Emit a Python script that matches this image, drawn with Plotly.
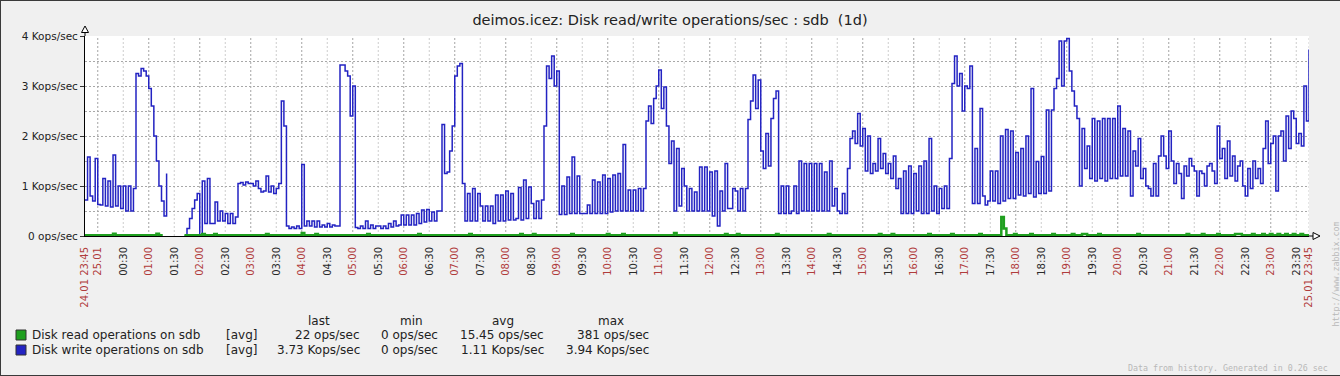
import pandas as pd
import plotly.graph_objects as go

# ---------------- data ----------------
TITLE = "deimos.icez: Disk read/write operations/sec : sdb  (1d)"
PERIOD_START = "2011-01-24 23:45"
PERIOD_END = "2011-01-25 23:45"
SAMPLE_MINUTES = 3

# Disk write operations (Kops/sec), one value every 3 minutes, None = no data
write_night = [  # 23:45 .. 05:57
    0.72, 1.58, 0.8, 0.7, 1.55,
    0.63, 0.62, 1.15, 0.6, 1.1, 0.58, 1.62, 0.6, 1.0, 0.55,
    1.0, 0.5, 1.0, 0.5, 0.95, 3.25, 3.2, 3.35, 3.3, 3.2,
    2.95, 2.6, 2.0, 1.5, 1.0, 0.7, 0.4, 1.25, None, None,
    None, None, None, None, 0.0, 0.15, 0.35, 0.55, 0.72, 0.85,
    0.0, 1.1, 0.25, 1.15, 0.25, 0.25, 0.68, 0.3, 0.5, 0.3,
    0.45, 0.25, 0.45, 0.25, 0.38, 1.05, 1.07, 1.02, 1.08, 1.05,
    1.05, 1.0, 1.1, 0.95, 0.88, 0.9, 1.2, 0.88, 1.0, 0.85,
    0.95, 1.05, 2.7, 2.2, 0.2, 0.15, 0.18, 0.15, 0.2, 0.15,
    1.43, 0.2, 0.3, 0.2, 0.3, 0.18, 0.3, 0.18, 0.22, 0.18,
    0.25, 0.18, 0.22, 0.2, 0.2, 3.42, 3.42, 3.3, 3.2, 2.4,
    3.0, 0.17, 0.15, 0.2, 0.15, 0.3, 0.15, 0.22, 0.15, 0.2,
    0.2, 0.15, 0.2, 0.15, 0.25, 0.18, 0.3, 0.2, 0.22, 0.42,
]
write_morning = [  # 06:00 .. 11:57
    0.22, 0.42, 0.22, 0.42, 0.22, 0.45, 0.25, 0.52, 0.28, 0.53,
    0.3, 0.48, 0.3, 0.5, 0.5, 2.23, 1.25, 1.28, 1.7, 2.2,
    3.2, 3.4, 3.45, 1.05, 0.3, 0.85, 0.3, 0.95, 0.3, 0.85,
    0.6, 0.3, 0.6, 0.3, 0.6, 0.25, 0.82, 0.3, 0.82, 0.3,
    0.9, 0.32, 0.85, 0.32, 0.35, 0.97, 0.32, 1.12, 0.35, 0.98,
    0.65, 0.35, 0.7, 0.35, 0.72, 2.2, 3.4, 3.15, 3.6, 3.0,
    3.3, 0.43, 1.0, 0.43, 1.18, 0.45, 1.58, 0.45, 1.2, 0.45,
    0.45, 0.45, 0.62, 0.45, 1.12, 0.45, 1.08, 0.45, 1.22, 0.45,
    1.15, 0.48, 1.22, 0.5, 1.25, 0.5, 1.83, 0.5, 0.92, 0.5,
    0.92, 0.5, 0.95, 0.5, 0.95, 2.3, 2.6, 2.25, 2.75, 3.0,
    3.32, 2.55, 2.98, 2.2, 1.45, 1.9, 0.5, 1.75, 0.6, 1.35,
    1.0, 0.5, 0.95, 0.5, 0.88, 0.5, 1.38, 0.5, 1.38, 0.5,
]
write_afternoon = [  # 12:00 .. 17:57
    1.28, 0.4, 1.3, 0.2, 0.9, 0.5, 1.45, 0.55, 0.55, 0.95,
    0.9, 0.5, 0.95, 0.5, 0.95, 2.33, 2.7, 3.22, 2.55, 3.12,
    1.7, 1.35, 2.05, 1.4, 2.35, 2.75, 2.9, 0.45, 1.0, 0.45,
    1.0, 0.45, 0.5, 1.0, 0.45, 1.5, 0.5, 1.45, 0.5, 1.45,
    0.5, 1.45, 0.5, 1.45, 0.5, 1.28, 0.5, 1.5, 0.6, 0.95,
    0.5, 0.45, 0.85, 0.45, 1.35, 1.95, 2.1, 1.85, 2.45, 1.8,
    2.15, 1.3, 2.0, 1.25, 1.45, 1.3, 1.95, 1.35, 1.65, 1.25,
    1.45, 1.15, 1.6, 0.95, 1.15, 0.45, 1.3, 0.45, 1.4, 0.45,
    1.25, 0.5, 1.4, 0.45, 1.5, 0.45, 1.95, 0.5, 1.0, 0.45,
    0.95, 0.55, 1.0, 0.55, 1.55, 3.05, 3.6, 3.0, 3.25, 2.5,
    3.0, 2.95, 3.4, 0.65, 1.75, 0.65, 2.55, 0.8, 0.62, 0.7,
    1.3, 0.7, 1.3, 0.65, 2.0, 0.7, 2.13, 0.75, 2.1, 0.75,
]
write_evening = [  # 18:00 .. 23:45
    1.67, 0.82, 1.75, 0.8, 2.0, 0.85, 2.95, 0.78, 1.49, 0.85,
    1.59, 0.85, 2.52, 0.9, 2.52, 2.95, 3.15, 3.9, 3.0, 3.9,
    3.95, 3.3, 2.9, 2.6, 2.35, 1.0, 2.15, 1.35, 1.8, 1.15,
    2.35, 1.1, 2.3, 1.15, 2.35, 1.1, 2.35, 1.15, 2.35, 1.15,
    2.6, 1.2, 2.15, 1.2, 2.1, 0.8, 1.7, 1.4, 1.95, 1.15,
    1.35, 1.0, 0.95, 0.8, 1.45, 0.8, 1.6, 2.0, 1.6, 1.35,
    2.1, 1.5, 1.05, 1.45, 1.25, 0.75, 1.4, 1.2, 1.55, 1.4,
    1.3, 0.8, 1.3, 1.25, 1.0, 1.4, 1.45, 1.3, 1.05, 2.2,
    1.55, 1.75, 1.15, 1.9, 1.2, 1.6, 1.1, 1.4, 1.5, 1.0,
    0.8, 1.35, 0.95, 1.5, 1.15, 1.35, 1.05, 1.75, 2.3, 1.45,
    1.85, 2.0, 0.9, 2.0, 2.1, 1.5, 2.4, 1.75, 2.5, 2.35,
    1.85, 2.05, 1.8, 3.0, 2.3, 3.73,
]

# Disk read operations (Kops/sec): minutes after period start, value
read_minutes = [
    0, 33, 36, 84, 87, 90, 93, 117, 138, 141, 152, 155, 213, 216, 255, 258,
    271, 274, 332, 335, 392, 395, 452, 455, 512, 515, 527, 530, 572, 575,
    614, 617, 632, 635, 693, 696, 753, 756, 767, 770, 813, 816, 874, 877,
    934, 937, 949, 952, 992, 995, 1019, 1022, 1052, 1055, 1078, 1081, 1084,
    1093, 1096, 1112, 1115, 1138, 1141, 1161, 1164, 1173, 1179, 1192, 1195,
    1238, 1241, 1296, 1299, 1314, 1317, 1332, 1335, 1353, 1361, 1373, 1376,
    1385, 1388, 1394, 1397, 1403, 1406, 1412, 1415, 1421, 1424, 1430, 1433,
    1440,
]
read_kops = [
    0.015, 0.045, 0.015, 0.045, 0.015, 0.04, None, 0.015, 0.04, 0.015, 0.04,
    0.015, 0.04, 0.015, 0.06, 0.015,
    0.04, 0.015, 0.04, 0.015, 0.04, 0.015, 0.04, 0.015, 0.04, 0.015, 0.04,
    0.015, 0.04, 0.015,
    0.04, 0.015, 0.04, 0.015, 0.06, 0.015, 0.04, 0.015, 0.04, 0.015, 0.04,
    0.015, 0.04, 0.015,
    0.04, 0.015, 0.04, 0.015, 0.04, 0.015, 0.04, 0.015, 0.04, 0.015, 0.38,
    0.15, 0.015,
    0.04, 0.015, 0.04, 0.015, 0.04, 0.015, 0.04, 0.015, 0.04, 0.015, 0.04,
    0.015,
    0.04, 0.015, 0.04, 0.015, 0.04, 0.015, 0.04, 0.015, 0.04, 0.015, 0.04,
    0.015,
    0.04, 0.015, 0.04, 0.015, 0.04, 0.015, 0.04, 0.015, 0.04, 0.015, 0.04,
    0.015,
    0.015,
]

y_ticks = [0, 1, 2, 3, 4]
y_tick_labels = ["0 ops/sec", "1 Kops/sec", "2 Kops/sec", "3 Kops/sec", "4 Kops/sec"]

series_names = ["Disk read operations on sdb", "Disk write operations on sdb"]
series_colors = ["#1f9f1f", "#2323c2"]
legend_func = ["[avg]", "[avg]"]
legend_last = ["22 ops/sec", "3.73 Kops/sec"]
legend_min = ["0 ops/sec", "0 ops/sec"]
legend_avg = ["15.45 ops/sec", "1.11 Kops/sec"]
legend_max = ["381 ops/sec", "3.94 Kops/sec"]

FOOTER = "Data from history. Generated in 0.26 sec"
SIDE_TEXT = "http://www.zabbix.com"

# ---------------- geometry helpers (pixels -> paper) ----------------
W, H = 1340, 376
L, R, T, B = 85, 31, 36, 140
PW, PH = W - L - R, H - T - B


def PX(x):
    return (x - L) / PW


def PY(y):
    return (T + PH - y) / PH


RED = "#b03c3c"
DARK = "#2a2a2a"
FONT = "DejaVu Sans"
MONO = "DejaVu Sans Mono"

start = pd.Timestamp(PERIOD_START)
end = pd.Timestamp(PERIOD_END)
write_kops = write_night + write_morning + write_afternoon + write_evening
write_times = pd.date_range(start, periods=len(write_kops), freq=f"{SAMPLE_MINUTES}min")
read_times = [start + pd.Timedelta(minutes=m) for m in read_minutes]

half_hours = list(pd.date_range(start.ceil("30min"), end, freq="30min"))
tick_vals = [start] + half_hours + [end]


def colored(txt, c):
    return f'<span style="color:{c}">{txt}</span>'


tick_text = []
for t in tick_vals:
    if t == start or t == end:
        tick_text.append(colored(f"{t:%d.%m %H:%M}", RED))
    elif t.hour == 0 and t.minute == 0:
        tick_text.append(colored(f"{t:%d.%m}", RED))
    elif t.minute == 0:
        tick_text.append(colored(f"{t:%H:%M}", RED))
    else:
        tick_text.append(colored(f"{t:%H:%M}", DARK))

fig = go.Figure()
fig.add_trace(go.Scatter(x=write_times, y=write_kops, mode="lines",
                         line=dict(color=series_colors[1], width=1.5, shape="hv"),
                         connectgaps=False, hoverinfo="skip", showlegend=False))
fig.add_trace(go.Scatter(x=read_times, y=read_kops, mode="lines",
                         line=dict(color=series_colors[0], width=2.5, shape="hv"),
                         connectgaps=False, hoverinfo="skip", showlegend=False))

fig.update_layout(
    width=W, height=H,
    margin=dict(l=L, r=R, t=T, b=B),
    paper_bgcolor="#f0f0f0", plot_bgcolor="#ffffff",
    showlegend=False,
    font=dict(family=FONT, color="#222222"),
    title=dict(text=TITLE, x=0.5, xref="container", xanchor="center",
               y=1 - 19.5 / H, yref="container", yanchor="middle",
               font=dict(family=FONT, size=14.5, color="#222222")),
)
fig.update_xaxes(
    type="date", range=[start, end], tickmode="array",
    tickvals=tick_vals, ticktext=tick_text, tickangle=-90,
    tickfont=dict(family=FONT, size=10, color=DARK),
    showgrid=False, zeroline=False, showline=True, linecolor="black", linewidth=1,
    ticks="outside", ticklen=6, tickcolor="rgba(0,0,0,0)", fixedrange=True,
)
fig.update_yaxes(
    range=[0, 4], tickmode="array", tickvals=y_ticks, ticktext=y_tick_labels,
    tickfont=dict(family=FONT, size=10.5, color="#222222"),
    showgrid=True, gridcolor="#a8a8a8", griddash="2px,2px", gridwidth=1,
    minor=dict(dtick=0.5, tick0=0, showgrid=True, gridcolor="#a8a8a8",
               griddash="2px,2px", gridwidth=1),
    zeroline=False, showline=True, linecolor="black", linewidth=1,
    ticks="outside", ticklen=4, tickcolor="#333333", fixedrange=True,
)

# vertical dotted grid (hours darker, half hours lighter)
for t in half_hours + [end]:
    is_hour = (t.minute == 0) and t != end
    fig.add_shape(type="line", xref="x", yref="paper", x0=t, x1=t, y0=0, y1=1,
                  line=dict(color="#a4a4a4" if is_hour else "#cdcdcd", width=1,
                            dash="2px,2px"), layer="below")

# axis extensions and arrows
fig.add_shape(type="line", xref="paper", yref="paper", x0=0, x1=0, y0=1, y1=PY(32),
              line=dict(color="black", width=1))
fig.add_shape(type="path", xref="paper", yref="paper",
              path=f"M {PX(81.5)} {PY(32.5)} L {PX(85)} {PY(26)} L {PX(88.5)} {PY(32.5)} Z",
              fillcolor="white", line=dict(color="black", width=1))
fig.add_shape(type="line", xref="paper", yref="paper", x0=1, x1=PX(1313), y0=0, y1=0,
              line=dict(color="black", width=1))
fig.add_shape(type="path", xref="paper", yref="paper",
              path=f"M {PX(1313)} {PY(232.5)} L {PX(1320)} {PY(236)} L {PX(1313)} {PY(239.5)} Z",
              fillcolor="white", line=dict(color="black", width=1))

# outer border (top, left, bottom)
border = dict(color="#3a3a3a", width=1)
fig.add_shape(type="line", xref="paper", yref="paper", x0=PX(0), x1=PX(W), y0=PY(0.5), y1=PY(0.5), line=border)
fig.add_shape(type="line", xref="paper", yref="paper", x0=PX(0.5), x1=PX(0.5), y0=PY(0), y1=PY(H), line=border)
fig.add_shape(type="line", xref="paper", yref="paper", x0=PX(0), x1=PX(W), y0=PY(H - 0.5), y1=PY(H - 0.5), line=border)

# legend block
LEG_FONT = dict(family=FONT, size=12, color="#222222")


def text(x, y, s, anchor="left", font=LEG_FONT, **kw):
    fig.add_annotation(x=PX(x), y=PY(y), xref="paper", yref="paper", text=s,
                       showarrow=False, xanchor=anchor, yanchor="middle",
                       font=font, **kw)


header_y = 321
row_y = [335, 350]
text(319, header_y, "last", "center")
text(411, header_y, "min", "center")
text(503, header_y, "avg", "center")
text(611, header_y, "max", "center")
for i in range(2):
    y = row_y[i]
    fig.add_shape(type="rect", xref="paper", yref="paper",
                  x0=PX(16), x1=PX(26), y0=PY(y + 5), y1=PY(y - 5),
                  fillcolor=series_colors[i], line=dict(color="#333333", width=1))
    text(30, y, series_names[i], "left")
    text(224, y, legend_func[i], "left")
    text(362, y, legend_last[i], "right")
    text(440, y, legend_min[i], "right")
    text(546, y, legend_avg[i], "right")
    text(651, y, legend_max[i], "right")

SMALL = dict(family=MONO, size=8.3, color="#b8b8b8")
text(1330, 368, FOOTER, "right", font=SMALL)
text(1335, 274.5, SIDE_TEXT, "center", font=SMALL, textangle=-90)

fig.write_html("out.html", config={"displayModeBar": False},
               post_script="document.body.style.margin='0';document.body.style.overflow='hidden';")
